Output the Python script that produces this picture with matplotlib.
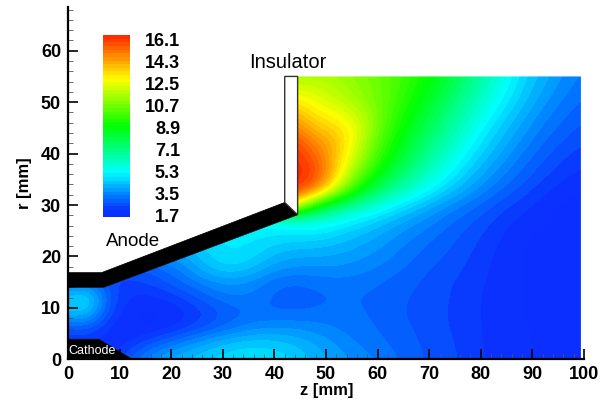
import numpy as np
import matplotlib
matplotlib.use('Agg')
import matplotlib.pyplot as plt
from matplotlib.colors import LinearSegmentedColormap, BoundaryNorm
from matplotlib.patches import Polygon

plt.rcParams['font.family'] = ['Liberation Sans', 'DejaVu Sans']

# field values on a regular grid, hidden parts
# (electrodes, insulator) just carry on the nearest visible value
z = [0, 4, 8, 12, 16, 20, 24, 28, 32, 36, 40, 44, 48, 52, 56, 60, 64, 68, 72, 76, 80, 84, 88, 92, 96, 100]
r = [0, 3, 6, 9, 12, 15, 18, 21, 24, 27, 30, 33, 36, 39, 42, 45, 48, 51, 54, 57]
field = [
 [2.2, 2.2, 2.2, 3.0, 3.8, 4.3, 4.5, 4.8, 4.9, 5.0, 4.95, 4.7, 4.3, 4.0, 3.7, 3.5, 3.2, 2.95, 2.75, 2.6, 2.35, 2.15, 2.05, 1.95, 1.9, 1.85],
 [2.3, 2.3, 2.0, 2.3, 2.9, 3.4, 3.9, 4.3, 4.6, 4.7, 4.6, 4.4, 4.1, 3.8, 3.5, 3.3, 3.1, 2.9, 2.75, 2.55, 2.3, 2.15, 2.05, 1.95, 1.9, 1.85],
 [2.7, 2.9, 2.2, 1.95, 1.95, 2.2, 2.6, 3.0, 3.4, 3.7, 3.8, 3.8, 3.65, 3.5, 3.3, 3.2, 3.0, 2.85, 2.7, 2.5, 2.3, 2.15, 2.05, 1.95, 1.9, 1.85],
 [4.6, 4.6, 2.6, 2.05, 1.9, 2.0, 2.3, 2.7, 3.0, 3.2, 3.2, 3.2, 3.25, 3.3, 3.25, 3.15, 2.95, 2.8, 2.65, 2.5, 2.3, 2.1, 2.0, 1.9, 1.85, 1.8],
 [4.6, 5.1, 2.9, 2.2, 2.2, 2.4, 2.8, 3.2, 3.5, 3.4, 3.1, 3.0, 3.1, 3.2, 3.2, 3.1, 2.95, 2.85, 2.7, 2.5, 2.3, 2.1, 2.0, 1.9, 1.85, 1.8],
 [3.3, 3.3, 2.6, 2.5, 2.7, 3.0, 3.4, 3.8, 3.9, 3.7, 3.3, 3.2, 3.3, 3.4, 3.35, 3.25, 3.05, 2.9, 2.7, 2.55, 2.35, 2.15, 2.0, 1.9, 1.85, 1.8],
 [2.9, 2.9, 2.9, 2.9, 3.0, 3.4, 4.0, 4.6, 4.8, 4.5, 4.0, 3.8, 3.8, 3.8, 3.7, 3.5, 3.3, 3.05, 2.85, 2.65, 2.4, 2.15, 2.0, 1.9, 1.85, 1.8],
 [4.2, 4.2, 4.2, 4.2, 4.2, 4.2, 4.3, 4.9, 5.1, 4.9, 4.5, 4.3, 4.3, 4.2, 4.0, 3.8, 3.5, 3.2, 3.0, 2.75, 2.5, 2.2, 2.0, 1.9, 1.85, 1.8],
 [5.0, 5.0, 5.0, 5.0, 5.0, 5.0, 5.0, 5.0, 5.0, 5.1, 5.0, 4.95, 4.9, 4.7, 4.4, 4.1, 3.75, 3.45, 3.15, 2.9, 2.6, 2.3, 2.05, 1.9, 1.85, 1.8],
 [5.4, 5.4, 5.4, 5.4, 5.4, 5.4, 5.4, 5.4, 5.4, 5.4, 5.4, 5.8, 6.0, 5.5, 5.1, 4.7, 4.2, 3.85, 3.45, 3.1, 2.8, 2.45, 2.2, 2.0, 1.85, 1.8],
 [13.5, 13.5, 13.5, 13.5, 13.5, 13.5, 13.5, 13.5, 13.5, 13.5, 13.5, 13.5, 9.5, 7.9, 6.8, 6.0, 5.2, 4.6, 4.0, 3.55, 3.15, 2.75, 2.45, 2.15, 1.95, 1.85],
 [16.5, 16.5, 16.5, 16.5, 16.5, 16.5, 16.5, 16.5, 16.5, 16.5, 16.5, 16.5, 15.4, 12.2, 9.5, 7.9, 6.7, 5.8, 5.0, 4.3, 3.7, 3.2, 2.8, 2.4, 2.15, 2.0],
 [16.7, 16.7, 16.7, 16.7, 16.7, 16.7, 16.7, 16.7, 16.7, 16.7, 16.7, 16.7, 16.2, 13.8, 11.0, 9.2, 7.8, 6.7, 5.7, 4.9, 4.15, 3.6, 3.1, 2.7, 2.4, 2.2],
 [16.6, 16.6, 16.6, 16.6, 16.6, 16.6, 16.6, 16.6, 16.6, 16.6, 16.6, 16.6, 15.8, 14.0, 12.0, 10.0, 8.6, 7.4, 6.3, 5.4, 4.6, 3.95, 3.4, 2.95, 2.6, 2.4],
 [16.2, 16.2, 16.2, 16.2, 16.2, 16.2, 16.2, 16.2, 16.2, 16.2, 16.2, 16.2, 15.0, 14.2, 12.5, 10.5, 9.1, 7.9, 6.9, 5.9, 5.0, 4.3, 3.7, 3.2, 2.85, 2.6],
 [15.2, 15.2, 15.2, 15.2, 15.2, 15.2, 15.2, 15.2, 15.2, 15.2, 15.2, 15.2, 14.0, 13.6, 12.8, 10.9, 9.5, 8.4, 7.4, 6.4, 5.4, 4.6, 4.0, 3.45, 3.1, 2.8],
 [14.2, 14.2, 14.2, 14.2, 14.2, 14.2, 14.2, 14.2, 14.2, 14.2, 14.2, 14.2, 13.2, 12.8, 12.1, 11.0, 9.8, 8.8, 7.8, 6.8, 5.9, 5.0, 4.3, 3.7, 3.3, 3.0],
 [13.0, 13.0, 13.0, 13.0, 13.0, 13.0, 13.0, 13.0, 13.0, 13.0, 13.0, 13.0, 12.6, 12.1, 11.5, 10.9, 10.1, 9.2, 8.3, 7.3, 6.3, 5.4, 4.6, 4.0, 3.5, 3.2],
 [12.0, 12.0, 12.0, 12.0, 12.0, 12.0, 12.0, 12.0, 12.0, 12.0, 12.0, 12.0, 12.0, 11.7, 11.3, 10.8, 10.2, 9.5, 8.7, 7.7, 6.7, 5.7, 4.8, 4.2, 3.7, 3.35],
 [11.2, 11.2, 11.2, 11.2, 11.2, 11.2, 11.2, 11.2, 11.2, 11.2, 11.2, 11.2, 11.6, 11.4, 11.1, 10.7, 10.3, 9.7, 9.0, 8.0, 7.0, 6.0, 5.0, 4.4, 3.9, 3.5],
]

levels = list(np.arange(1.7, 16.75, 0.3))
legend_ticks = ['16.1', '14.3', '12.5', '10.7', '8.9', '7.1', '5.3', '3.5', '1.7']
legend_vals = [16.1, 14.3, 12.5, 10.7, 8.9, 7.1, 5.3, 3.5, 1.7]

# geometry of the thruster in mm
domain = [(0, 3.9), (6, 3.9), (12.5, 0), (99.4, 0), (99.4, 55), (44.5, 55), (44.5, 28.1), (7, 14), (0, 14)]
anode = [(0, 14), (7, 14), (44.5, 28.1), (42, 30.5), (6.5, 16.85), (0, 16.85)]
cathode = [(0, 0), (0, 3.9), (6, 3.9), (12.5, 0)]
insulator = [(42, 30.5), (44.5, 28.1), (44.5, 55), (42, 55)]

cmap = LinearSegmentedColormap.from_list('rainbow2', [
    (0.0, (0.04, 0.18, 1.0)), (0.05, (0.04, 0.2, 1.0)), (0.125, (0.0, 0.48, 1.0)), (0.25, (0.0, 1.0, 1.0)),
    (0.375, (0.0, 1.0, 0.5)), (0.5, (0.0, 1.0, 0.0)), (0.625, (0.5, 1.0, 0.0)), (0.75, (1.0, 1.0, 0.0)),
    (0.875, (1.0, 0.55, 0.0)), (1.0, (1.0, 0.1, 0.0))])
norm = BoundaryNorm(levels, cmap.N, extend='both')

W, H = 607, 407
fig = plt.figure(figsize=(W / 100, H / 100), dpi=100)
ax = fig.add_axes([68 / W, (H - 359.3) / H, 516 / W, 352.3 / H])

# bicubic imshow gives the smooth filled bands of the original contour plot
im = ax.imshow(np.array(field), origin='lower', extent=(z[0] - 2, z[-1] + 2, r[0] - 1.5, r[-1] + 1.5),
               cmap=cmap, norm=norm, aspect='auto', interpolation='bicubic', interpolation_stage='data')
clip = Polygon(domain, transform=ax.transData, fc='none', ec='none')
ax.add_patch(clip)
im.set_clip_path(clip)

ax.add_patch(Polygon(anode, fc='black', ec='black', lw=0.5, zorder=3))
ax.add_patch(Polygon(cathode, fc='black', ec='black', lw=0.5, zorder=3))
ax.add_patch(Polygon(insulator, fc='white', ec='#333333', lw=1.0, zorder=3))

ax.set_xlim(0, 100)
ax.set_ylim(0, 68.5)
ax.spines['top'].set_visible(False)
ax.spines['right'].set_visible(False)
ax.spines['left'].set_linewidth(1.6)
ax.spines['bottom'].set_linewidth(1.6)
ax.set_xticks(range(0, 101, 10))
ax.set_xticks(range(0, 101, 2), minor=True)
ax.set_yticks(range(0, 61, 10))
ax.set_yticks(range(0, 69, 2), minor=True)
ax.tick_params(which='major', direction='in', length=7, width=1.2, labelsize=13, pad=5)
ax.tick_params(which='minor', direction='in', length=3.5, width=0.6, color='#555555')
for t in ax.get_xticklabels() + ax.get_yticklabels():
    t.set_fontweight('bold')
ax.patch.set_alpha(0)

fig.text(327 / W, 1 - 391 / H, 'z [mm]', fontsize=12, fontweight='bold', ha='center', va='center')
fig.text(25 / W, 1 - 183 / H, 'r [mm]', fontsize=12, fontweight='bold', rotation=90, ha='center', va='center')
fig.text(288 / W, 1 - 63 / H, 'Insulator', fontsize=14.5, ha='center', va='center')
fig.text(133 / W, 1 - 242 / H, 'Anode', fontsize=13.5, ha='center', va='center')
fig.text(92 / W, 1 - 351 / H, 'Cathode', fontsize=9, color='white', ha='center', va='center', zorder=5)

# legend
cax = fig.add_axes([103 / W, (H - 218) / H, 27 / W, 183 / H])
cax.pcolormesh([0, 1], levels, np.array(levels[:-1])[:, None] + 0.01, cmap=cmap, norm=norm)
cax.set_ylim(1.63, 16.7)
cax.axis('off')
for lab, val in zip(legend_ticks, legend_vals):
    y = 217 - (val - 1.7) / 14.4 * 175
    fig.text(180 / W, 1 - y / H, lab, fontsize=13, fontweight='bold', ha='right', va='center')

fig.savefig('out.png', dpi=100)
